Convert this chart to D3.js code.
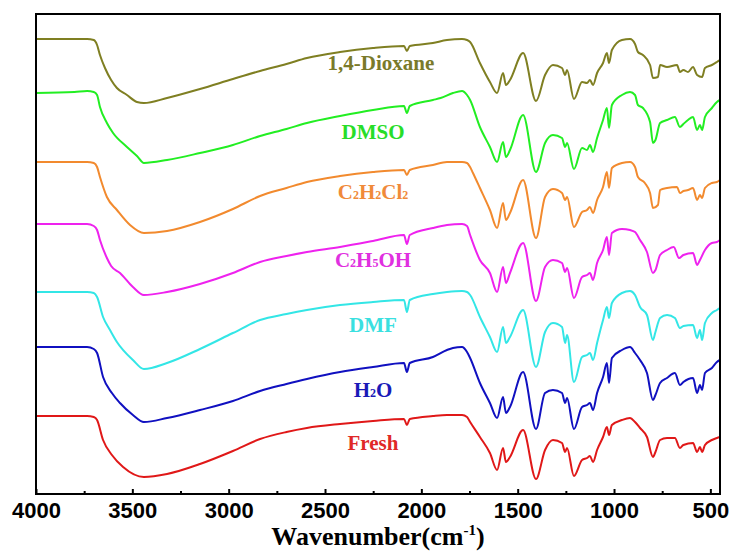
<!DOCTYPE html>
<meta charset="utf-8">
<script src="https://cdn.jsdelivr.net/npm/d3@7"></script>
<style>
body { margin: 0; background: #fff; }
path.line { fill: none; stroke-width: 2px; stroke-linejoin: round; }
.axis path, .axis line { stroke: #000; stroke-width: 2px; }
.axis text { font: bold 22px "Liberation Sans", Arial, sans-serif; fill: #000; }
.label { font-family: "Liberation Serif", "Times New Roman", serif; font-weight: bold; font-size: 21px; text-anchor: middle; }
.title { font-family: "Liberation Serif", "Times New Roman", serif; font-weight: bold; font-size: 26px; text-anchor: middle; }
</style>
<body>
<script>

// stacked FTIR spectra, [wavenumber, transmittance (a.u., offset)]
var fresh = [[4000,78],[3800,78],[3735,78],[3700,77],[3683,74],[3652,54],[3606,39],[3548,27],[3440,17],[3320,20],[3149,30],[2978,43],[2837,55],[2700,62],[2594,66],[2422,70],[2251,73],[2090,75],[2075,69],[2060,75],[1940,78],[1867,79],[1789,79],[1763,77],[1747,72],[1696,57],[1644,41],[1607,24],[1576,46],[1561,32],[1540,37],[1472,64],[1405,15],[1358,44],[1317,54],[1270,51],[1254,42],[1244,46],[1208,18],[1166,34],[1140,36],[1125,38],[1109,32],[1088,44],[1057,57],[1037,67],[1026,59],[1011,69],[959,74],[917,76],[891,72],[865,66],[829,57],[798,37],[785,42],[761,54],[725,56],[684,56],[658,46],[640,49],[590,51],[569,42],[554,47],[543,42],[528,49],[492,54],[466,56],[450,57]];

var h2o = [[4000,147],[3800,147],[3735,147],[3700,145],[3683,141],[3652,117],[3606,101],[3564,91],[3497,79],[3440,72],[3320,76],[3149,84],[2978,93],[2837,103],[2700,110],[2594,115],[2422,122],[2251,127],[2090,131],[2075,122],[2060,131],[1940,137],[1867,144],[1836,146],[1789,147],[1763,142],[1747,136],[1696,111],[1644,91],[1607,76],[1576,97],[1561,81],[1540,87],[1472,122],[1405,65],[1358,101],[1317,104],[1270,101],[1254,91],[1244,96],[1208,65],[1166,87],[1140,89],[1125,91],[1109,84],[1088,101],[1057,117],[1037,131],[1026,111],[1011,136],[959,144],[917,147],[891,141],[865,134],[829,121],[798,94],[785,99],[761,111],[725,116],[684,121],[658,109],[640,112],[590,116],[569,101],[554,109],[543,104],[528,121],[492,126],[466,132],[450,134]];

var dmf = [[4000,202],[3800,202],[3735,202],[3700,201],[3683,197],[3652,177],[3616,164],[3580,152],[3497,134],[3440,125],[3320,131],[3149,145],[2978,161],[2837,174],[2700,180],[2594,184],[2422,189],[2251,192],[2090,194],[2075,182],[2060,194],[1940,200],[1867,202],[1789,203],[1763,202],[1747,199],[1696,177],[1644,157],[1607,142],[1576,167],[1561,151],[1540,157],[1472,184],[1405,127],[1358,162],[1317,171],[1270,167],[1254,151],[1244,159],[1208,112],[1166,137],[1140,139],[1125,141],[1109,134],[1088,151],[1057,174],[1037,187],[1026,176],[1011,191],[959,201],[917,203],[891,199],[865,187],[829,179],[798,154],[785,162],[761,176],[725,179],[684,176],[658,166],[640,168],[590,169],[569,156],[554,164],[543,154],[528,171],[492,181],[466,184],[450,186]];

var c2h5oh = [[4000,270],[3800,270],[3735,270],[3700,268],[3683,264],[3668,254],[3632,236],[3610,228],[3564,221],[3497,207],[3440,199],[3320,202],[3149,210],[2978,221],[2837,232],[2700,238],[2594,242],[2422,247],[2251,253],[2090,259],[2075,250],[2060,259],[1940,266],[1867,269],[1789,270],[1763,268],[1747,259],[1696,234],[1644,221],[1607,202],[1576,227],[1561,211],[1540,221],[1472,251],[1405,193],[1358,227],[1317,234],[1270,231],[1254,222],[1244,226],[1208,196],[1166,217],[1140,219],[1125,221],[1109,214],[1088,231],[1057,244],[1037,257],[1026,239],[1011,261],[959,265],[917,264],[891,262],[865,254],[829,242],[798,221],[785,224],[761,239],[725,244],[690,247],[663,236],[640,239],[590,241],[569,229],[554,234],[528,244],[492,251],[466,252],[450,254]];

var c2h2cl2 = [[4000,332],[3800,332],[3735,332],[3700,331],[3683,327],[3668,317],[3632,297],[3580,284],[3512,269],[3440,261],[3320,263],[3149,272],[2978,285],[2837,298],[2700,306],[2594,312],[2422,318],[2251,322],[2090,324],[2075,319],[2060,324],[1940,329],[1867,332],[1789,332],[1763,331],[1747,327],[1732,321],[1696,306],[1644,284],[1607,266],[1576,291],[1561,274],[1540,281],[1472,314],[1405,256],[1358,297],[1317,305],[1270,301],[1254,294],[1244,297],[1208,267],[1166,282],[1140,284],[1125,287],[1109,281],[1088,294],[1057,307],[1037,322],[1026,306],[1011,326],[959,331],[917,332],[891,327],[876,317],[840,311],[813,301],[798,286],[772,289],[761,304],[725,306],[673,307],[658,301],[640,303],[616,304],[590,306],[569,294],[554,299],[543,296],[528,306],[492,311],[466,312],[450,314]];

var dmso = [[4000,401],[3800,402],[3735,403],[3700,402],[3683,399],[3668,387],[3632,371],[3600,361],[3528,347],[3476,338],[3440,331],[3320,334],[3149,341],[2978,349],[2837,358],[2700,365],[2594,371],[2422,378],[2251,384],[2090,388],[2075,381],[2060,388],[1940,394],[1900,396],[1836,401],[1789,403],[1763,399],[1747,394],[1696,367],[1644,347],[1607,332],[1576,352],[1561,337],[1540,344],[1472,379],[1405,322],[1358,351],[1317,359],[1270,356],[1254,347],[1244,351],[1208,325],[1166,346],[1140,344],[1125,349],[1109,342],[1088,356],[1057,374],[1037,386],[1026,366],[1011,389],[959,399],[917,402],[891,399],[876,389],[850,386],[813,372],[798,351],[785,354],[761,371],[725,374],[684,377],[658,367],[640,370],[616,374],[590,377],[569,364],[554,369],[543,364],[528,377],[492,386],[466,392],[450,394]];

var dioxane = [[4000,455],[3800,455],[3735,455],[3700,454],[3683,449],[3668,439],[3642,426],[3610,414],[3580,406],[3528,399],[3476,392],[3440,391],[3320,396],[3149,405],[2978,415],[2837,423],[2700,430],[2594,436],[2422,442],[2251,446],[2090,448],[2075,443],[2060,448],[1940,451],[1867,454],[1789,455],[1763,454],[1747,452],[1696,431],[1644,412],[1607,401],[1576,421],[1561,409],[1540,414],[1472,441],[1405,393],[1358,419],[1317,429],[1270,426],[1254,419],[1244,424],[1208,395],[1166,412],[1140,411],[1125,414],[1109,409],[1088,421],[1057,431],[1037,441],[1026,431],[1011,444],[959,454],[917,455],[891,450],[876,442],[850,439],[813,429],[798,416],[772,417],[761,429],[725,427],[673,429],[658,422],[640,424],[616,422],[590,427],[569,419],[543,417],[528,426],[492,429],[466,432],[450,434]];

// label text as [text, subscript?] pieces
var names = [
  [["Fresh", false]],
  [["H", false], ["2", true], ["O", false]],
  [["DMF", false]],
  [["C", false], ["2", true], ["H", false], ["5", true], ["OH", false]],
  [["C", false], ["2", true], ["H", false], ["2", true], ["Cl", false], ["2", true]],
  [["DMSO", false]],
  [["1,4-Dioxane", false]]
];
var spectra = [fresh, h2o, dmf, c2h5oh, c2h2cl2, dmso, dioxane];
var colors = ["#e01818", "#1010c0", "#33e6e6", "#ee22ee", "#f28a2e", "#22ee22", "#7f7f22"];
var labelColors = ["#e02828", "#1a1ab8", "#3ae0e0", "#e030e0", "#f08a3a", "#28dd28", "#7a7a2a"];

var majorTicks = [4000, 3500, 3000, 2500, 2000, 1500, 1000, 500];
var minorTicks = [3750, 3250, 2750, 2250, 1750, 1250, 750];
var labelAt = 2251;

var width = 732, height = 554;
var margin = {left: 36, right: 12, top: 14, bottom: 60};
// little nudges of each label under its curve (px)
var labelDy = [29, 30, 30, 26, 27, 29, 22];
var labelDx = [0, 0, 0, 0, 0, 0, 8];

var svg = d3.select("body").append("svg")
    .attr("width", width)
    .attr("height", height);

var x = d3.scaleLinear()
    .domain([4000, 450])
    .range([margin.left, width - margin.right]);

var y = d3.scaleLinear()
    .domain([0, 480])
    .range([height - margin.bottom, margin.top]);

var line = d3.line()
    .x(function(d) { return x(d[0]); })
    .y(function(d) { return y(d[1]); })
    .curve(d3.curveMonotoneX);

// spectra
svg.append("g")
  .selectAll("path")
  .data(spectra)
  .enter().append("path")
    .attr("class", "line")
    .attr("d", line)
    .style("stroke", function(d, i) { return colors[i]; });

// labels, under each curve
var lab = svg.append("g")
  .selectAll("text")
  .data(spectra)
  .enter().append("text")
    .attr("class", "label")
    .attr("x", function(d, i) { return x(labelAt) + labelDx[i]; })
    .attr("y", function(d, i) {
      var p = d.find(function(p) { return p[0] <= labelAt; });
      return y(p[1]) + labelDy[i];
    })
    .style("fill", function(d, i) { return labelColors[i]; });

lab.each(function(d, i) {
  var t = d3.select(this);
  names[i].forEach(function(part) {
    t.append("tspan")
      .style("font-size", part[1] ? "12px" : null)
      .text(part[0]);
  });
});

// bottom axis, ticks pointing in
var xAxis = svg.append("g")
    .attr("class", "axis")
    .attr("transform", "translate(0," + y(0) + ")")
    .call(d3.axisBottom(x).tickValues(majorTicks).tickFormat(d3.format("d"))
      .tickSizeInner(-5).tickSizeOuter(0).tickPadding(8));
xAxis.select(".domain").remove();

svg.append("g")
    .attr("class", "axis")
    .attr("transform", "translate(0," + y(0) + ")")
    .call(d3.axisBottom(x).tickValues(minorTicks).tickSizeInner(-3).tickSizeOuter(0).tickFormat(""))
    .select(".domain").remove();

// frame
svg.append("rect")
    .attr("x", x(4000))
    .attr("y", y(480))
    .attr("width", x(450) - x(4000))
    .attr("height", y(0) - y(480))
    .style("fill", "none")
    .style("stroke", "#000")
    .style("stroke-width", 2);

var title = svg.append("text")
    .attr("class", "title")
    .attr("x", (x(4000) + x(450)) / 2)
    .attr("y", 545);
title.append("tspan").text("Wavenumber(cm");
title.append("tspan").attr("dy", -10).style("font-size", "15px").text("-1");
title.append("tspan").attr("dy", 10).text(")");

</script>
</body>
</html>
